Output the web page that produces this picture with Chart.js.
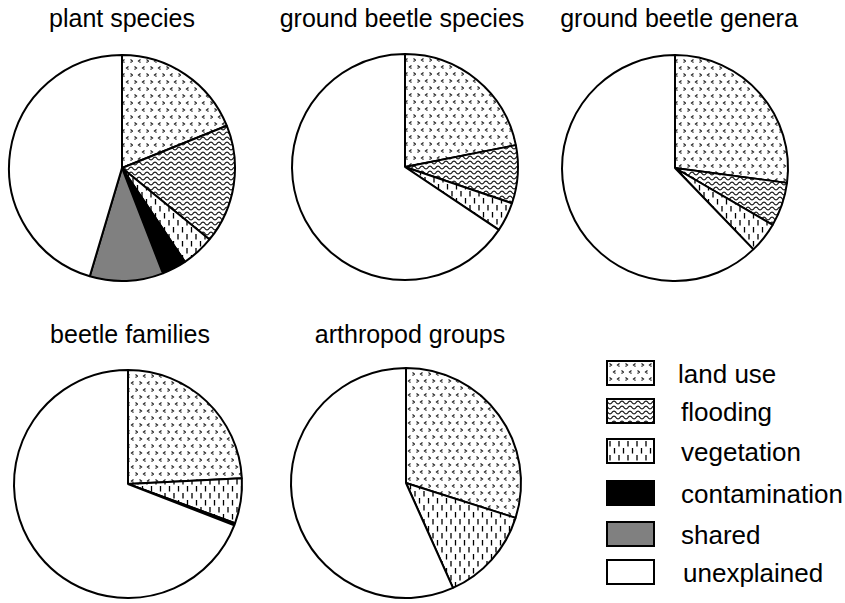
<!DOCTYPE html>
<html>
<head>
<meta charset="utf-8">
<script src="https://cdn.jsdelivr.net/npm/chart.js@4/dist/chart.umd.min.js"></script>
<style>
  html, body { margin: 0; padding: 0; background: #fff; }
  body { width: 845px; height: 603px; position: relative; overflow: hidden; font-family: "Liberation Sans", Arial, sans-serif; color: #000; }
  .title { position: absolute; font-size: 25px; line-height: 25px; white-space: nowrap; transform: translateX(-50%); }
  canvas.pie { position: absolute; }
  .lbox { position: absolute; width: 49px; height: 26px; box-sizing: border-box; border: 2px solid #000; background-repeat: repeat; }
  .ltext { position: absolute; font-size: 26px; line-height: 26px; white-space: nowrap; }
</style>
</head>
<body>
<script>
// ---- data ----
const categories = ['land use', 'flooding', 'vegetation', 'contamination', 'shared', 'unexplained'];
const chartTitles = ['plant species', 'ground beetle species', 'ground beetle genera', 'beetle families', 'arthropod groups'];
const plantSpecies        = [18.9, 17.0, 4.7, 3.5, 10.5, 45.4];
const groundBeetleSpecies = [21.9, 8.3, 4.2, 0, 0, 65.6];
const groundBeetleGenera  = [27.1, 6.3, 4.4, 0, 0, 62.2];
const beetleFamilies      = [24.2, 0, 6.4, 0.3, 0, 69.1];
const arthropodGroups     = [29.9, 0, 13.4, 0, 0, 56.7];
const seriesList = [plantSpecies, groundBeetleSpecies, groundBeetleGenera, beetleFamilies, arthropodGroups];

// ---- layout ----
const pieLayout = [
  {cx: 122, cy: 168, r: 113, tx: 122, ty: 6},
  {cx: 405, cy: 167, r: 113, tx: 402, ty: 6},
  {cx: 675, cy: 168, r: 113, tx: 679, ty: 6},
  {cx: 128, cy: 484, r: 114, tx: 130, ty: 322},
  {cx: 406, cy: 483, r: 115, tx: 410, ty: 322}
];

// ---- patterns ----
function tile(w, h, draw) {
  const c = document.createElement('canvas');
  c.width = w; c.height = h;
  const ctx = c.getContext('2d');
  ctx.fillStyle = '#fff';
  ctx.fillRect(0, 0, w, h);
  draw(ctx);
  return c;
}
function chevron(ctx, x, y, dir) {
  ctx.beginPath();
  if (dir < 0) { ctx.moveTo(x + 2, y); ctx.lineTo(x, y + 1.5); ctx.lineTo(x + 2, y + 3); }
  else { ctx.moveTo(x, y); ctx.lineTo(x + 2, y + 1.5); ctx.lineTo(x, y + 3); }
  ctx.stroke();
}
const landTile = tile(16, 14, ctx => {
  ctx.strokeStyle = '#222'; ctx.lineWidth = 1.2;
  chevron(ctx, 1.5, 1.5, 1); chevron(ctx, 9.5, 1.5, -1);
  chevron(ctx, 5.5, 8.5, -1); chevron(ctx, 13.5, 8.5, 1);
});
const floodTile = tile(8, 5, ctx => {
  ctx.strokeStyle = '#111'; ctx.lineWidth = 1.1;
  ctx.beginPath();
  for (let x = -1; x <= 9; x += 0.5) {
    const y = 2.5 + 1.4 * Math.sin(2 * Math.PI * x / 8);
    if (x === -1) ctx.moveTo(x, y); else ctx.lineTo(x, y);
  }
  ctx.stroke();
});
const vegTile = tile(9, 14, ctx => {
  ctx.strokeStyle = '#000'; ctx.lineWidth = 1.3;
  ctx.beginPath();
  ctx.moveTo(2, 1); ctx.lineTo(2, 6.5);
  ctx.moveTo(6.5, 8); ctx.lineTo(6.5, 13.5);
  ctx.stroke();
});
const pctx = document.createElement('canvas').getContext('2d');
const fills = [
  pctx.createPattern(landTile, 'repeat'),
  pctx.createPattern(floodTile, 'repeat'),
  pctx.createPattern(vegTile, 'repeat'),
  '#000000',
  '#808080',
  '#ffffff'
];
const swatchCss = [
  'url(' + landTile.toDataURL() + ')',
  'url(' + floodTile.toDataURL() + ')',
  'url(' + vegTile.toDataURL() + ')',
  null, null, null
];
const swatchColor = ['#fff', '#fff', '#fff', '#000', '#808080', '#fff'];

// ---- charts ----
seriesList.forEach((values, i) => {
  const L = pieLayout[i];
  const size = 2 * L.r + 8;
  const cv = document.createElement('canvas');
  cv.className = 'pie';
  cv.width = size; cv.height = size;
  cv.style.width = size + 'px'; cv.style.height = size + 'px';
  cv.style.left = (L.cx - size / 2) + 'px';
  cv.style.top = (L.cy - size / 2) + 'px';
  document.body.appendChild(cv);

  const t = document.createElement('div');
  t.className = 'title';
  t.textContent = chartTitles[i];
  t.style.left = L.tx + 'px';
  t.style.top = L.ty + 'px';
  document.body.appendChild(t);

  new Chart(cv.getContext('2d'), {
    type: 'pie',
    data: {
      labels: categories,
      datasets: [{
        data: values,
        backgroundColor: fills,
        borderColor: '#000',
        borderWidth: 2
      }]
    },
    options: {
      responsive: false,
      animation: false,
      events: [],
      radius: L.r,
      layout: { padding: 0 },
      plugins: { legend: { display: false }, tooltip: { enabled: false }, title: { display: false } }
    }
  });
});

// ---- legend ----
const legendBoxTops = [360, 398, 438, 480, 521, 559];
const legendTextX = [678, 681, 681, 681, 681, 683];
categories.forEach((name, i) => {
  const b = document.createElement('div');
  b.className = 'lbox';
  b.style.left = '606px';
  b.style.top = legendBoxTops[i] + 'px';
  b.style.backgroundColor = swatchColor[i];
  if (swatchCss[i]) b.style.backgroundImage = swatchCss[i];
  document.body.appendChild(b);
  const tx = document.createElement('div');
  tx.className = 'ltext';
  tx.textContent = name;
  tx.style.left = legendTextX[i] + 'px';
  tx.style.top = (legendBoxTops[i] + 1) + 'px';
  document.body.appendChild(tx);
});
</script>
</body>
</html>
